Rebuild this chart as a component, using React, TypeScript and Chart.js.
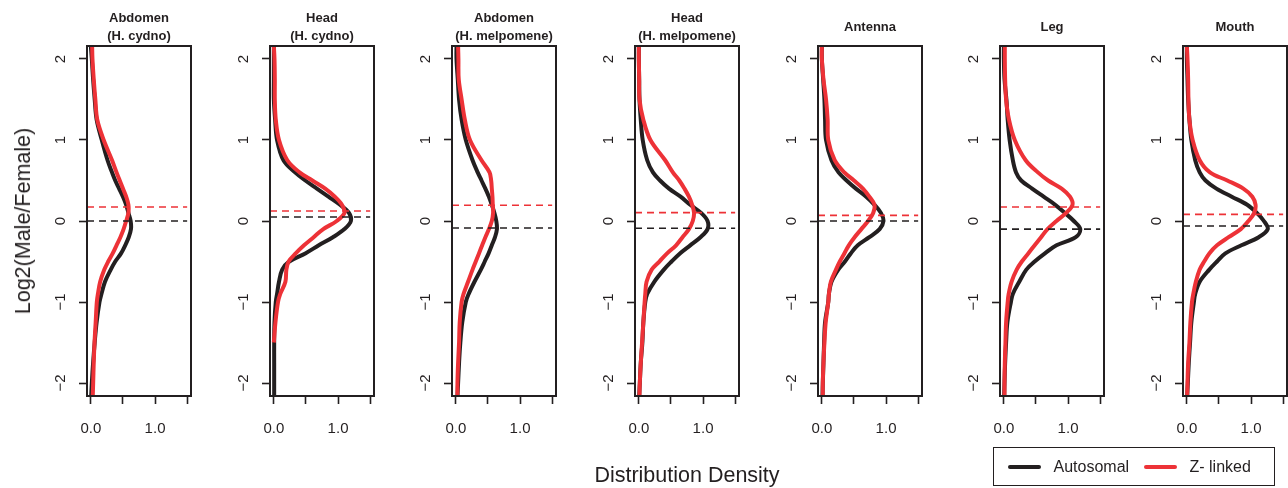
import React, { useEffect, useRef } from "react";
import { Chart, registerables } from "chart.js";
Chart.register(...registerables);

// ---------- data ----------
const LOG2_GRID = [2.16, 2, 1.75, 1.5, 1.25, 1, 0.75, 0.6, 0.5, 0.4, 0.3, 0.2, 0.1, 0, -0.1, -0.2, -0.3, -0.4, -0.5, -0.6, -0.75, -0.9, -1, -1.25, -1.5, -1.75, -2, -2.16];

const PANEL_TITLES = [
  ["Abdomen", "(H. cydno)"],
  ["Head", "(H. cydno)"],
  ["Abdomen", "(H. melpomene)"],
  ["Head", "(H. melpomene)"],
  ["Antenna"],
  ["Leg"],
  ["Mouth"],
];

const SERIES_LABELS = ["Autosomal", "Z- linked"];

const abdCydnoAuto = [0.0, 0.015, 0.035, 0.06, 0.09, 0.17, 0.26, 0.33, 0.38, 0.44, 0.5, 0.55, 0.585, 0.62, 0.625, 0.59, 0.535, 0.47, 0.38, 0.31, 0.22, 0.165, 0.135, 0.09, 0.06, 0.035, 0.015, 0.005];
const abdCydnoZ = [0.02, 0.025, 0.045, 0.07, 0.1, 0.2, 0.33, 0.4, 0.45, 0.5, 0.55, 0.585, 0.585, 0.55, 0.51, 0.46, 0.4, 0.34, 0.27, 0.21, 0.145, 0.11, 0.093, 0.075, 0.057, 0.045, 0.036, 0.03];

const headCydnoAuto = [0.0, 0.0, 0.0, 0.0, 0.02, 0.05, 0.15, 0.33, 0.49, 0.67, 0.85, 1.03, 1.17, 1.2, 1.1, 0.92, 0.7, 0.49, 0.24, 0.13, 0.08, 0.05, 0.03, 0.01, 0.005, 0.005, 0.005, 0.005];
const headCydnoZ = [0.0, 0.01, 0.015, 0.015, 0.03, 0.08, 0.21, 0.4, 0.6, 0.8, 0.95, 1.06, 1.1, 0.98, 0.77, 0.62, 0.47, 0.34, 0.23, 0.195, 0.18, 0.1, 0.065, 0.025, 0.0, null, null, null];

const abdMelAuto = [0.01, 0.01, 0.03, 0.05, 0.09, 0.155, 0.26, 0.34, 0.4, 0.46, 0.515, 0.56, 0.6, 0.63, 0.64, 0.61, 0.56, 0.51, 0.45, 0.39, 0.29, 0.2, 0.155, 0.1, 0.07, 0.05, 0.035, 0.025];
const abdMelZ = [0.035, 0.04, 0.045, 0.09, 0.14, 0.22, 0.4, 0.525, 0.55, 0.56, 0.57, 0.575, 0.58, 0.56, 0.515, 0.46, 0.41, 0.36, 0.31, 0.26, 0.19, 0.12, 0.09, 0.06, 0.05, 0.035, 0.025, 0.025];

const headMelAuto = [0.0, 0.0, 0.005, 0.01, 0.03, 0.06, 0.13, 0.22, 0.33, 0.47, 0.65, 0.8, 0.97, 1.07, 1.07, 0.96, 0.8, 0.64, 0.51, 0.39, 0.24, 0.13, 0.1, 0.07, 0.055, 0.03, 0.015, 0.005];
const headMelZ = [0.0, 0.0, 0.005, 0.01, 0.07, 0.18, 0.41, 0.53, 0.63, 0.71, 0.78, 0.83, 0.86, 0.84, 0.78, 0.68, 0.58, 0.44, 0.32, 0.2, 0.12, 0.1, 0.09, 0.07, 0.05, 0.03, 0.015, 0.01];

const antennaAuto = [0.0, 0.0, 0.02, 0.04, 0.05, 0.065, 0.15, 0.26, 0.385, 0.53, 0.69, 0.82, 0.92, 0.96, 0.9, 0.74, 0.56, 0.45, 0.36, 0.256, 0.15, 0.11, 0.1, 0.05, 0.035, 0.025, 0.015, 0.01];
const antennaZ = [0.0, 0.0, 0.025, 0.065, 0.09, 0.1, 0.2, 0.35, 0.5, 0.64, 0.74, 0.82, 0.8, 0.72, 0.615, 0.51, 0.42, 0.35, 0.28, 0.22, 0.14, 0.11, 0.1, 0.06, 0.04, 0.025, 0.015, 0.015];

const legAuto = [0.0, 0.0, 0.01, 0.04, 0.06, 0.09, 0.14, 0.19, 0.27, 0.44, 0.62, 0.8, 0.95, 1.09, 1.19, 1.12, 0.82, 0.64, 0.48, 0.35, 0.24, 0.14, 0.11, 0.055, 0.035, 0.02, 0.01, 0.005];
const legZ = [0.015, 0.015, 0.02, 0.035, 0.08, 0.17, 0.34, 0.53, 0.69, 0.9, 1.03, 1.07, 0.97, 0.82, 0.68, 0.58, 0.48, 0.38, 0.28, 0.2, 0.12, 0.075, 0.06, 0.035, 0.025, 0.015, 0.01, 0.01];

const mouthAuto = [0.0, 0.0, 0.01, 0.02, 0.04, 0.07, 0.13, 0.2, 0.29, 0.46, 0.7, 0.94, 1.09, 1.2, 1.26, 1.12, 0.85, 0.6, 0.47, 0.35, 0.2, 0.13, 0.11, 0.07, 0.05, 0.03, 0.015, 0.005];
const mouthZ = [0.0, 0.01, 0.02, 0.025, 0.04, 0.09, 0.2, 0.36, 0.63, 0.88, 1.02, 1.07, 1.05, 0.96, 0.84, 0.65, 0.47, 0.35, 0.27, 0.2, 0.14, 0.1, 0.08, 0.055, 0.04, 0.02, 0.01, 0.005];

const AUTO_SERIES = [abdCydnoAuto, headCydnoAuto, abdMelAuto, headMelAuto, antennaAuto, legAuto, mouthAuto];
const Z_SERIES = [abdCydnoZ, headCydnoZ, abdMelZ, headMelZ, antennaZ, legZ, mouthZ];

const AUTO_MEDIANS = [0.0, 0.05, -0.087, -0.09, 0.0, -0.1, -0.062];
const Z_MEDIANS = [0.173, 0.124, 0.194, 0.103, 0.07, 0.173, 0.082];

const Y_TICKS = [-2, -1, 0, 1, 2];
const X_TICKS = [0, 0.5, 1, 1.5];
const X_TICK_LABELS = ["0.0", "", "1.0", ""];
const X_RANGE = [-0.06, 1.56];
const Y_RANGE = [-2.16, 2.16];

// ---------- style ----------
const INK = "#231f20";
const RED = "#ed3237";
const FONT = "'Liberation Sans', Arial, Helvetica, sans-serif";
const PANEL_LEFTS = [87, 270, 452, 635, 818, 1000, 1183];
const AXIS_W = 60;
const BOX_W = 104;
const CANVAS_W = AXIS_W + BOX_W + 2;
const H = 488;
const TOP = 46;
const BOTTOM_AXIS_H = 92;

const toPoints = (vals: (number | null)[]) =>
  LOG2_GRID.map((y, i) => ({ x: vals[i], y })).filter((p) => p.x !== null && p.x !== undefined);

const minusLabel = (v: number) => (v < 0 ? "\u2212" + Math.abs(v) : String(v));

const zeroPad = (s: any) => {
  s.paddingLeft = 0;
  s.paddingRight = 0;
  s.paddingTop = 0;
  s.paddingBottom = 0;
};

function Panel({ index }: { index: number }) {
  const ref = useRef<HTMLCanvasElement | null>(null);
  useEffect(() => {
    const canvas = ref.current!;
    const titleLines = PANEL_TITLES[index];
    const framePlugin = {
      id: "frame" + index,
      afterDatasetsDraw(chart: any) {
        const { ctx, chartArea: a } = chart;
        ctx.save();
        ctx.strokeStyle = INK;
        ctx.lineWidth = 2;
        ctx.strokeRect(a.left, a.top, a.right - a.left, a.bottom - a.top);
        ctx.restore();
      },
      afterDraw(chart: any) {
        const { ctx, chartArea: a } = chart;
        ctx.save();
        ctx.fillStyle = INK;
        ctx.font = "bold 13px " + FONT;
        ctx.textAlign = "center";
        ctx.textBaseline = "middle";
        const cx = (a.left + a.right) / 2;
        if (titleLines.length === 2) {
          ctx.fillText(titleLines[0], cx, 18);
          ctx.fillText(titleLines[1], cx, 36);
        } else {
          ctx.fillText(titleLines[0], cx, 27);
        }
        ctx.restore();
      },
    };
    const dashLine = (m: number) => [
      { x: X_RANGE[0], y: m },
      { x: X_TICKS[X_TICKS.length - 1], y: m },
    ];
    const chart = new Chart(canvas, {
      type: "scatter",
      data: {
        datasets: [
          {
            label: "Z median",
            data: dashLine(Z_MEDIANS[index]),
            showLine: true,
            borderColor: RED,
            borderWidth: 1.6,
            borderDash: [7, 5],
            pointRadius: 0,
            tension: 0,
          },
          {
            label: "Autosomal median",
            data: dashLine(AUTO_MEDIANS[index]),
            showLine: true,
            borderColor: INK,
            borderWidth: 1.6,
            borderDash: [7, 5],
            pointRadius: 0,
            tension: 0,
          },
          {
            label: SERIES_LABELS[1],
            data: toPoints(Z_SERIES[index]),
            showLine: true,
            borderColor: RED,
            borderWidth: 4,
            pointRadius: 0,
            tension: 0.35,
          },
          {
            label: SERIES_LABELS[0],
            data: toPoints(AUTO_SERIES[index]),
            showLine: true,
            borderColor: INK,
            borderWidth: 4,
            pointRadius: 0,
            tension: 0.35,
          },
        ],
      },
      options: {
        animation: false,
        responsive: false,
        devicePixelRatio: 1,
        layout: { padding: { top: TOP, left: 0, right: CANVAS_W - AXIS_W - BOX_W, bottom: 0 } },
        plugins: { legend: { display: false }, tooltip: { enabled: false }, title: { display: false } },
        scales: {
          x: {
            type: "linear",
            position: "bottom",
            min: X_RANGE[0],
            max: X_RANGE[1],
            afterBuildTicks: (s: any) => {
              s.ticks = X_TICKS.map((v) => ({ value: v }));
            },
            afterFit: (s: any) => {
              s.height = BOTTOM_AXIS_H;
              zeroPad(s);
            },
            ticks: {
              autoSkip: false,
              maxRotation: 0,
              minRotation: 0,
              padding: 16,
              color: INK,
              font: { family: FONT, size: 15 },
              callback: (v: any) => {
                const i = X_TICKS.indexOf(Number(v));
                return i >= 0 ? X_TICK_LABELS[i] : "";
              },
            },
            grid: { drawOnChartArea: false, drawTicks: true, tickLength: 8, tickColor: INK, tickWidth: 1.6 },
            border: { display: false },
          },
          y: {
            type: "linear",
            position: "left",
            min: Y_RANGE[0],
            max: Y_RANGE[1],
            afterBuildTicks: (s: any) => {
              s.ticks = Y_TICKS.map((v) => ({ value: v }));
            },
            afterFit: (s: any) => {
              s.width = AXIS_W;
              zeroPad(s);
            },
            ticks: {
              autoSkip: false,
              minRotation: 90,
              maxRotation: 90,
              crossAlign: "center",
              padding: 10,
              color: INK,
              font: { family: FONT, size: 15 },
              callback: (v: any) => minusLabel(Number(v)),
            },
            grid: { drawOnChartArea: false, drawTicks: true, tickLength: 8, tickColor: INK, tickWidth: 1.6 },
            border: { display: false },
          },
        },
      },
      plugins: [framePlugin],
    } as any);
    return () => chart.destroy();
  }, [index]);
  return (
    <canvas
      ref={ref}
      width={CANVAS_W}
      height={H}
      style={{ position: "absolute", left: PANEL_LEFTS[index] - AXIS_W, top: 0, width: CANVAS_W, height: H }}
    />
  );
}

export default function App() {
  return (
    <div
      style={{
        position: "absolute",
        left: 0,
        top: 0,
        width: 1288,
        height: 488,
        overflow: "hidden",
        background: "#fff",
        fontFamily: FONT,
        color: INK,
      }}
    >
      {PANEL_TITLES.map((_, i) => (
        <Panel key={i} index={i} />
      ))}
      <div
        style={{
          position: "absolute",
          left: 23,
          top: 221,
          transform: "translate(-50%, -50%) rotate(-90deg)",
          whiteSpace: "nowrap",
          fontSize: 21.5,
          lineHeight: "24px",
        }}
      >
        Log2(Male/Female)
      </div>
      <div
        style={{
          position: "absolute",
          left: 687,
          top: 475,
          transform: "translate(-50%, -50%)",
          whiteSpace: "nowrap",
          fontSize: 21.5,
          lineHeight: "24px",
        }}
      >
        Distribution Density
      </div>
      <div
        style={{
          position: "absolute",
          left: 993,
          top: 447,
          width: 282,
          height: 39,
          boxSizing: "border-box",
          border: "1.5px solid " + INK,
          fontSize: 16,
        }}
      >
        <span style={{ position: "absolute", left: 13.5, top: 16.5, width: 33, height: 4, background: INK, borderRadius: 2 }} />
        <span style={{ position: "absolute", left: 59.5, top: 8.5, lineHeight: "20px", whiteSpace: "nowrap" }}>{SERIES_LABELS[0]}</span>
        <span style={{ position: "absolute", left: 149.5, top: 16.5, width: 33, height: 4, background: RED, borderRadius: 2 }} />
        <span style={{ position: "absolute", left: 195.5, top: 8.5, lineHeight: "20px", whiteSpace: "nowrap" }}>{SERIES_LABELS[1]}</span>
      </div>
    </div>
  );
}
